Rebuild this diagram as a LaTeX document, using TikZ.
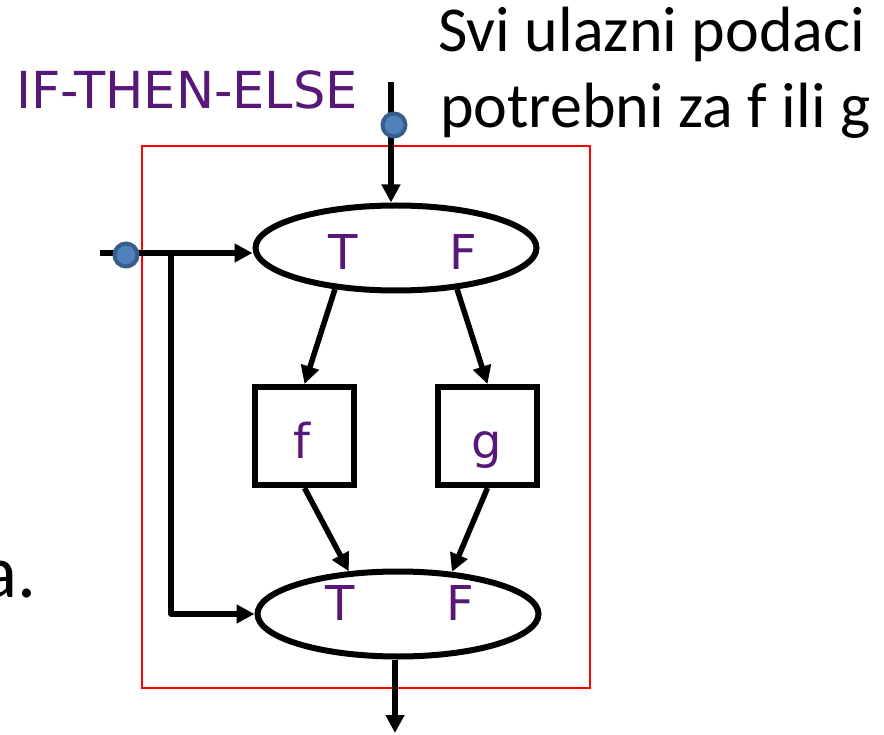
\documentclass[tikz,border=0pt]{standalone}
\usepackage{fontspec}
\setmainfont{Carlito}
\newfontfamily\labelfont{DejaVu Sans}
\usetikzlibrary{shapes.geometric,arrows.meta,positioning}
\definecolor{ifpurple}{RGB}{88,24,120}
\definecolor{portblue}{RGB}{79,129,189}
\definecolor{portedge}{RGB}{56,93,138}

\begin{document}
\begin{tikzpicture}[x=1pt,y=-1pt,
    cond/.style={draw,ellipse,line width=6pt,minimum width=281pt,minimum height=85pt,inner sep=0pt},
    fun/.style={draw,rectangle,line width=6pt,minimum width=99pt,minimum height=98pt,inner sep=0pt},
    port/.style={circle,draw=portedge,fill=portblue,line width=4pt,minimum size=23pt,inner sep=0pt},
    lbl/.style={text=ifpurple,font=\labelfont\fontsize{48}{48}\selectfont,inner sep=0pt,anchor=base},
    note/.style={anchor=base west,inner sep=0pt,font=\fontsize{64}{78}\selectfont},
    flow/.style={line width=5.5pt,line join=round,-{Triangle[length=18pt,width=18pt]}}]
    \useasboundingbox (0,0) rectangle (884,735);
    \draw[red,line width=1.5pt] (142,146) rectangle (590,688);

    \node[note] (note1) at (438,52) {Svi ulazni podaci};
    \node[note] (note2) at (440,128) {potrebni za f ili g};
    \node[anchor=base west,inner sep=0pt,text=ifpurple,font=\labelfont\fontsize{51}{51}\selectfont] (title) at (16,109) {IF-THEN-ELSE};
    \node[anchor=base east,inner sep=0pt,font=\fontsize{75}{75}\selectfont] (cut) at (37,597) {a.};

    \node[cond] (sel) at (396,248) {};
    \node[cond] (mux) at (398,614) {};
    \node[fun] (fbox) at (304.5,436) {};
    \node[fun] (gbox) at (487.5,436) {};
    \node[lbl] (selT) at (343,270) {T};
    \node[lbl] (selF) at (463,270) {F};
    \node[lbl] (muxT) at (340,620) {T};
    \node[lbl] (muxF) at (460,620) {F};
    \node[lbl] (fname) at (302,458) {f};
    \node[lbl] (gname) at (487,458) {g};

    \coordinate (tin) at (391,82);
    \coordinate (cin) at (100,253);
    \coordinate (split) at (171,253);
    \coordinate (out) at (395,733);

    \draw[flow] (tin) -- (tin |- sel.north);
    \draw[flow] (cin) -- (cin -| sel.west);
    \draw[flow] (split) |- (mux.west);
    \draw[flow] (sel.214) -- (fbox.north);
    \draw[flow] (sel.326) -- (gbox.north);
    \draw[flow] (fbox.south) -- (mux.139);
    \draw[flow] (gbox.south) -- (mux.38);
    \draw[flow] (out |- mux.south) -- (out);

    \node[port] (ptop) at (394,125) {};
    \node[port] (pcond) at (126,255) {};
\end{tikzpicture}
\end{document}
